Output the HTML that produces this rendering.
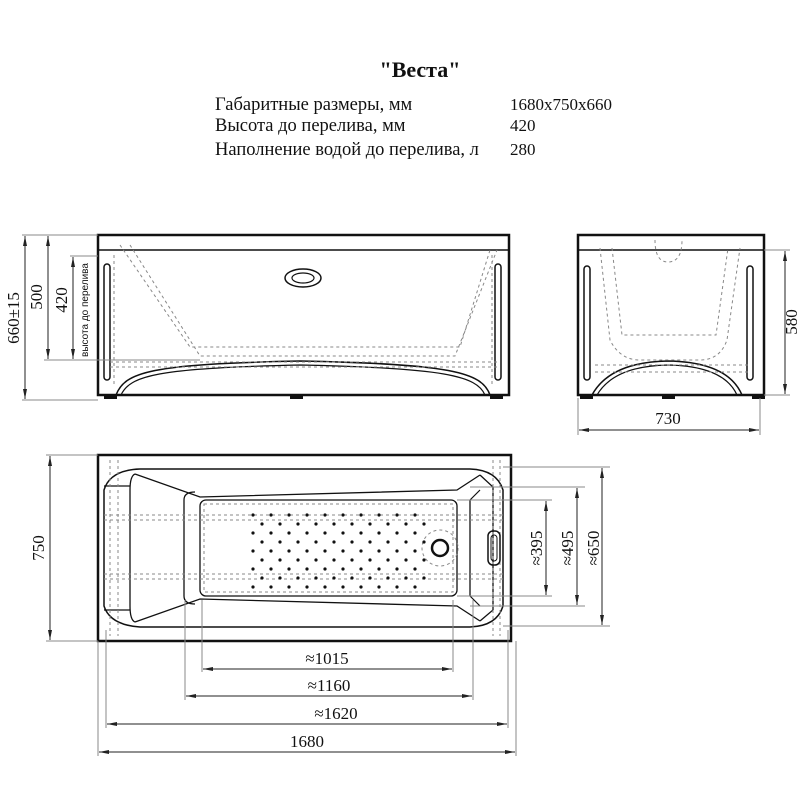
<!DOCTYPE html>
<html><head><meta charset="utf-8"><style>
html,body{margin:0;padding:0;background:#fff}
svg{display:block}
text{font-family:"Liberation Serif",serif;fill:#111}
</style></head><body>
<svg width="800" height="800" viewBox="0 0 800 800" xmlns="http://www.w3.org/2000/svg">
<defs>
<marker id="a" viewBox="0 0 10 4" refX="10" refY="2" markerWidth="10" markerHeight="4" orient="auto-start-reverse" markerUnits="userSpaceOnUse"><path d="M0,0 L10,2 L0,4z" fill="#222"/></marker>
<pattern id="dots" x="250" y="512" width="18" height="18" patternUnits="userSpaceOnUse">
<circle cx="3" cy="3" r="1.6" fill="#111"/><circle cx="12" cy="12" r="1.6" fill="#111"/>
</pattern>
</defs>

<text x="420" y="77" font-size="22" font-weight="bold" text-anchor="middle">"Веста"</text>
<g font-size="18.5">
<text x="215" y="110">Габаритные размеры, мм</text>
<text x="215" y="131">Высота до перелива, мм</text>
<text x="215" y="155">Наполнение водой до перелива, л</text>
</g>
<g font-size="17">
<text x="510" y="110">1680x750x660</text>
<text x="510" y="131">420</text>
<text x="510" y="155">280</text>
</g>

<!-- FRONT VIEW -->
<g fill="none" stroke="#111">
<rect x="98" y="235" width="411" height="160" stroke-width="2.5"/>
<line x1="98" y1="250" x2="509" y2="250" stroke-width="1.5"/>
<rect x="104" y="264" width="6" height="116" rx="3" stroke-width="1.5"/>
<rect x="495" y="264" width="6" height="116" rx="3" stroke-width="1.5"/>
<ellipse cx="303" cy="278" rx="18" ry="9" stroke-width="1.5"/>
<ellipse cx="303" cy="278" rx="11" ry="5" stroke-width="1.2"/>
<path d="M116,395 C125,372 150,364 300,361 C450,364 482,372 490,395" stroke-width="1.5"/>
<path d="M121,395 C130,376 155,368 300,365 C445,368 477,376 485,395" stroke-width="1.2"/>
<g stroke="#888" stroke-dasharray="3,3" stroke-width="1">
<path d="M120,245 L190,347 L460,347 L490,250"/>
<path d="M130,245 L200,356 L455,356 L497,250"/>
<line x1="110" y1="362" x2="500" y2="362"/>
<line x1="110" y1="367" x2="500" y2="367"/>
<line x1="114" y1="255" x2="114" y2="385"/>
<line x1="492" y1="255" x2="492" y2="385"/>
</g>
</g>
<g fill="#111"><rect x="104" y="395" width="13" height="4"/><rect x="290" y="395" width="13" height="4"/><rect x="490" y="395" width="13" height="4"/></g>
<g stroke="#888" stroke-width="1" fill="none">
<line x1="22" y1="235" x2="98" y2="235"/><line x1="22" y1="400" x2="98" y2="400"/>
<line x1="44" y1="360" x2="200" y2="360"/><line x1="70" y1="256" x2="98" y2="256"/>
</g>
<g stroke="#222" stroke-width="1">
<line x1="25" y1="236" x2="25" y2="399" marker-start="url(#a)" marker-end="url(#a)"/>
<line x1="48" y1="236" x2="48" y2="359" marker-start="url(#a)" marker-end="url(#a)"/>
<line x1="73" y1="257" x2="73" y2="359" marker-start="url(#a)" marker-end="url(#a)"/>
</g>
<text transform="translate(19,318) rotate(-90)" font-size="17" text-anchor="middle">660±15</text>
<text transform="translate(42,297) rotate(-90)" font-size="17" text-anchor="middle">500</text>
<text transform="translate(67,300) rotate(-90)" font-size="17" text-anchor="middle">420</text>
<text transform="translate(88,310) rotate(-90)" font-size="10" text-anchor="middle" style="font-family:'Liberation Sans',sans-serif">высота до перелива</text>

<!-- SIDE VIEW -->
<g fill="none" stroke="#111">
<rect x="578" y="235" width="186" height="160" stroke-width="2.5"/>
<line x1="578" y1="250" x2="764" y2="250" stroke-width="1.5"/>
<rect x="584" y="266" width="6" height="114" rx="3" stroke-width="1.5"/>
<rect x="747" y="266" width="6" height="114" rx="3" stroke-width="1.5"/>
<path d="M592,395 Q610,362 668,361 Q728,362 742,395" stroke-width="1.5"/>
<path d="M597,395 Q614,366 668,365 Q724,366 737,395" stroke-width="1.2"/>
<g stroke="#888" stroke-dasharray="3,3" stroke-width="1">
<path d="M600,248 L610,340 Q620,360 640,360 L700,360 Q720,360 727,340 L740,248"/>
<path d="M612,248 L622,335 L716,335 L728,248"/>
<line x1="595" y1="365" x2="750" y2="365"/>
<line x1="595" y1="372" x2="750" y2="372"/>
<path d="M655,240 Q655,262 668,262 Q682,262 682,240"/>
</g>
</g>
<g fill="#111"><rect x="580" y="395" width="13" height="4"/><rect x="662" y="395" width="13" height="4"/><rect x="752" y="395" width="13" height="4"/></g>
<g stroke="#888" stroke-width="1"><line x1="764" y1="250" x2="790" y2="250"/><line x1="764" y1="395" x2="790" y2="395"/><line x1="578" y1="398" x2="578" y2="435"/><line x1="760" y1="398" x2="760" y2="435"/></g>
<g stroke="#222" stroke-width="1">
<line x1="785" y1="251" x2="785" y2="394" marker-start="url(#a)" marker-end="url(#a)"/>
<line x1="579" y1="430" x2="759" y2="430" marker-start="url(#a)" marker-end="url(#a)"/>
</g>
<text transform="translate(797,322) rotate(-90)" font-size="17" text-anchor="middle">580</text>
<text x="668" y="424" font-size="17" text-anchor="middle">730</text>

<!-- TOP VIEW -->
<g fill="none" stroke="#111">
<rect x="98" y="455" width="413" height="186" stroke-width="2.5"/>
<path d="M140,469 L470,469 Q497,470 503,490 L503,606 Q497,626 470,627 L140,627 Q110,625 104,606 L104,490 Q110,470 140,469z" stroke-width="1.5"/>
<path d="M135,474 L200,497 L457,490 L480,475" stroke-width="1.3"/>
<path d="M135,622 L200,599 L457,606 L480,621" stroke-width="1.3"/>
<path d="M135,474 Q130,476 130,490 L130,606 Q130,620 135,622" stroke-width="1.3"/>
<path d="M104,486 L130,486 M104,610 L130,610" stroke-width="1.3"/>
<rect x="200" y="500" width="257" height="96" rx="6" stroke-width="1.3"/>
<line x1="184" y1="500" x2="184" y2="596" stroke-width="1.3"/>
<path d="M184,500 Q184,492 195,492 M184,596 Q184,604 195,604" stroke-width="1.3"/>
<line x1="470" y1="500" x2="470" y2="596" stroke-width="1.3"/>
<path d="M480,475 L493,487 L493,610 L480,621" stroke-width="1.3"/>
<path d="M470,500 L480,490 M470,596 L480,606" stroke-width="1.2"/>
<g stroke="#888" stroke-dasharray="3,3" stroke-width="1">
<rect x="204" y="504" width="249" height="88"/>
<line x1="104" y1="515" x2="503" y2="515"/><line x1="104" y1="520" x2="503" y2="520"/>
<line x1="104" y1="574" x2="503" y2="574"/><line x1="104" y1="579" x2="503" y2="579"/>
<line x1="110" y1="460" x2="110" y2="636"/><line x1="118" y1="460" x2="118" y2="636"/>
<line x1="493" y1="460" x2="493" y2="636"/><line x1="500" y1="460" x2="500" y2="636"/>
<circle cx="440" cy="548" r="18"/>
</g>
<circle cx="440" cy="548" r="8" stroke-width="2.5"/>
<rect x="488" y="531" width="12" height="34" rx="5" stroke-width="1.5"/>
<rect x="491" y="535" width="6" height="26" rx="3" stroke-width="1"/>
</g>
<rect x="250" y="508" width="180" height="82" fill="url(#dots)"/>
<!-- dims -->
<g stroke="#888" stroke-width="1">
<line x1="457" y1="500" x2="552" y2="500"/><line x1="457" y1="596" x2="552" y2="596"/>
<line x1="470" y1="487" x2="585" y2="487"/><line x1="470" y1="606" x2="585" y2="606"/>
<line x1="503" y1="467" x2="610" y2="467"/><line x1="503" y1="626" x2="610" y2="626"/>
<line x1="202" y1="600" x2="202" y2="672"/><line x1="453" y1="600" x2="453" y2="672"/>
<line x1="185" y1="600" x2="185" y2="700"/><line x1="473" y1="600" x2="473" y2="700"/>
<line x1="106" y1="630" x2="106" y2="728"/><line x1="508" y1="630" x2="508" y2="728"/>
<line x1="98" y1="641" x2="98" y2="756"/><line x1="516" y1="641" x2="516" y2="756"/>
<line x1="46" y1="455" x2="98" y2="455"/><line x1="46" y1="641" x2="98" y2="641"/>
</g>
<g stroke="#222" stroke-width="1">
<line x1="546" y1="501" x2="546" y2="595" marker-start="url(#a)" marker-end="url(#a)"/>
<line x1="577" y1="488" x2="577" y2="605" marker-start="url(#a)" marker-end="url(#a)"/>
<line x1="602" y1="468" x2="602" y2="625" marker-start="url(#a)" marker-end="url(#a)"/>
<line x1="50" y1="456" x2="50" y2="640" marker-start="url(#a)" marker-end="url(#a)"/>
<line x1="203" y1="669" x2="452" y2="669" marker-start="url(#a)" marker-end="url(#a)"/>
<line x1="186" y1="696" x2="472" y2="696" marker-start="url(#a)" marker-end="url(#a)"/>
<line x1="107" y1="724" x2="507" y2="724" marker-start="url(#a)" marker-end="url(#a)"/>
<line x1="99" y1="752" x2="515" y2="752" marker-start="url(#a)" marker-end="url(#a)"/>
</g>
<text transform="translate(542,548) rotate(-90)" font-size="17" text-anchor="middle">≈395</text>
<text transform="translate(573,548) rotate(-90)" font-size="17" text-anchor="middle">≈495</text>
<text transform="translate(599,548) rotate(-90)" font-size="17" text-anchor="middle">≈650</text>
<text transform="translate(44,548) rotate(-90)" font-size="17" text-anchor="middle">750</text>
<text x="327" y="664" font-size="17" text-anchor="middle">≈1015</text>
<text x="329" y="691" font-size="17" text-anchor="middle">≈1160</text>
<text x="336" y="719" font-size="17" text-anchor="middle">≈1620</text>
<text x="307" y="747" font-size="17" text-anchor="middle">1680</text>
</svg>
</body></html>
